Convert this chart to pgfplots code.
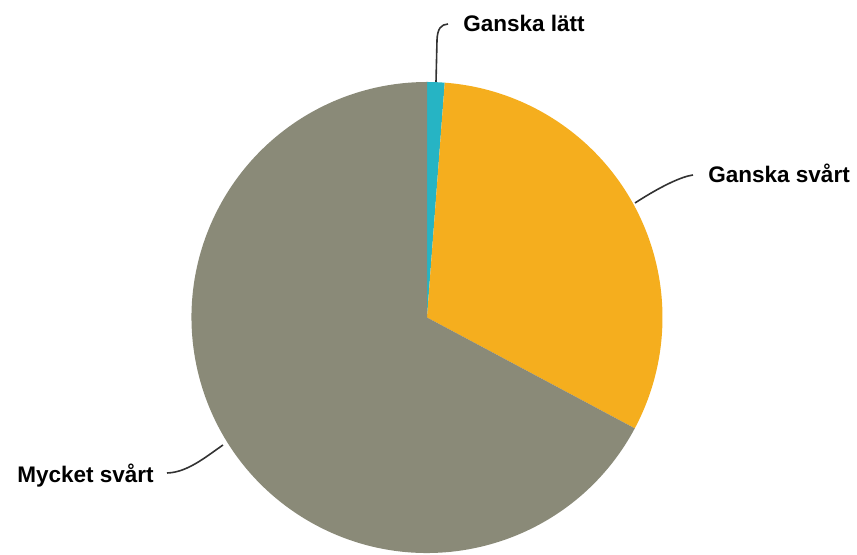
\documentclass[border=0pt]{standalone}
\usepackage{pgfplots}
\usepackage{pgfplotstable}
\usepackage{fontspec}
\setmainfont{Liberation Sans}
\pgfplotsset{compat=1.18}

\definecolor{latt}{RGB}{38,180,196}
\definecolor{svart}{RGB}{245,174,30}
\definecolor{mycket}{RGB}{138,138,120}
\definecolor{leader}{RGB}{50,50,50}

% andel i procent, medurs fran klockan 12
\pgfplotstableread[col sep=comma]{
label,value
Ganska lätt,1.2
Ganska svårt,31.6
Mycket svårt,67.2
}\piedata

\begin{document}
\begin{tikzpicture}
\pgfplotstablegetelem{0}{value}\of\piedata \let\va\pgfplotsretval
\pgfplotstablegetelem{1}{value}\of\piedata \let\vb\pgfplotsretval
\pgfplotstablegetelem{2}{value}\of\piedata \let\vc\pgfplotsretval
\pgfmathsetmacro\aa{90-3.6*\va}
\pgfmathsetmacro\ab{\aa-3.6*\vb}
\pgfmathsetmacro\ac{\ab-3.6*\vc}
\def\R{235.5}
\begin{axis}[
    x=0.75pt, y=0.75pt,
    xmin=-427, xmax=430,
    ymin=-237.5, ymax=317.5,
    hide axis,
    clip=true,
]
\path (rel axis cs:0,0) rectangle (rel axis cs:1,1);

% sektorer
\fill[latt] (axis cs:0,0) -- (axis cs:0,\R)
    arc[start angle=90, end angle=\aa, radius=\R] -- cycle;
\fill[svart] (axis cs:0,0) -- (axis cs:{\R*cos(\aa)},{\R*sin(\aa)})
    arc[start angle=\aa, end angle=\ab, radius=\R] -- cycle;
\fill[mycket] (axis cs:0,0) -- (axis cs:{\R*cos(\ab)},{\R*sin(\ab)})
    arc[start angle=\ab, end angle=\ac, radius=\R] -- cycle;

% ledlinjer
\draw[leader, line width=1.2pt] (axis cs:9,235.5) -- (axis cs:10,277.5)
    .. controls (axis cs:10.5,289) and (axis cs:14,293) .. (axis cs:21,293.5);
\draw[leader, line width=1.2pt] (axis cs:208,114.5)
    .. controls (axis cs:235,132) and (axis cs:255,141) .. (axis cs:266,142.5);
\draw[leader, line width=1.2pt] (axis cs:-260,-155.5)
    .. controls (axis cs:-240,-155) and (axis cs:-222,-140) .. (axis cs:-204,-127.5);

% etiketter
\tikzset{lbl/.style={anchor=base west, inner sep=0pt,
    font=\bfseries\fontsize{16.9}{20}\selectfont}}
\node[lbl] at (axis cs:36,285.5) {Ganska lätt};
\node[lbl] at (axis cs:281,134.5) {Ganska svårt};
\node[lbl] at (axis cs:-410,-165.5) {Mycket svårt};
\end{axis}
\end{tikzpicture}
\end{document}
